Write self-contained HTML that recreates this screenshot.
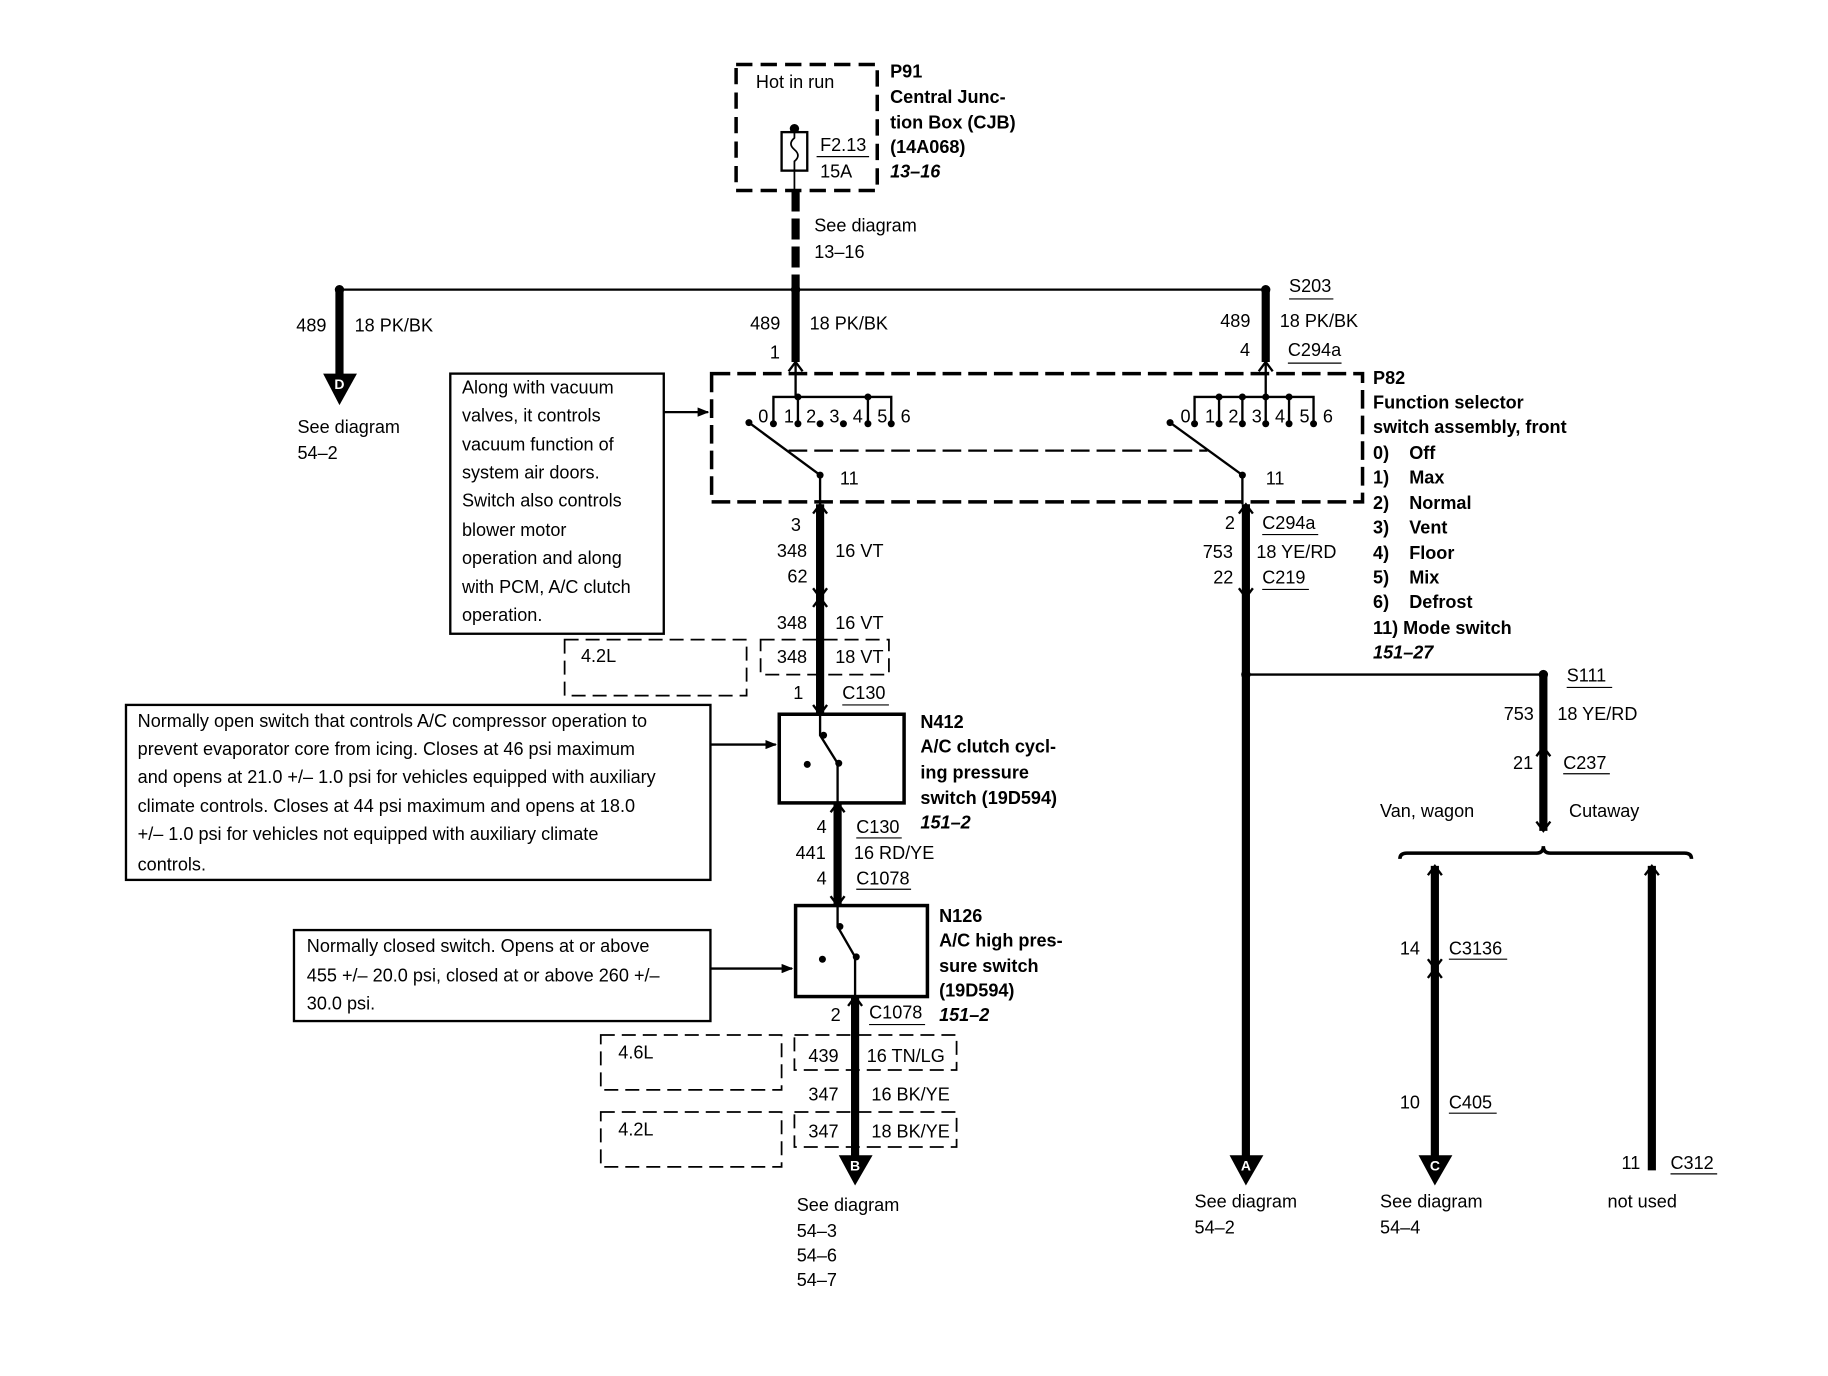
<!DOCTYPE html>
<html><head><meta charset="utf-8"><style>
html,body{margin:0;padding:0;background:#fff}
svg{display:block}
text{font-family:"Liberation Sans",Arial,sans-serif;font-size:15.5px;fill:#000}
.b{font-weight:bold}
.i{font-weight:bold;font-style:italic}
text.w{fill:#fff;font-size:12px;font-weight:bold}
</style></head><body>
<svg width="1828" height="1376" viewBox="0 0 1567 1179" xmlns="http://www.w3.org/2000/svg">
<defs>
<marker id="ar" markerWidth="10" markerHeight="8" refX="9" refY="4" orient="auto" markerUnits="userSpaceOnUse"><path d="M0,0 L10,4 L0,8 Z" fill="#000"/></marker>
</defs>
<g fill="none" stroke="#000">
<rect x="631" y="55" width="121" height="108" stroke-width="3" stroke-dasharray="14,7"/>
<rect x="670" y="113" width="22" height="33" stroke-width="2"/>
<path d="M681,110 L681,118 Q675,123 681,128 Q687,133 681,138 L681,163" stroke-width="1.5"/>
<line x1="700" y1="134" x2="745" y2="134" stroke-width="1"/>
<line x1="682" y1="163" x2="682" y2="248" stroke-width="7" stroke-dasharray="18,6"/>
<line x1="291" y1="248" x2="1085" y2="248" stroke-width="2"/>
<line x1="291" y1="248" x2="291" y2="322" stroke-width="7"/>
<line x1="682" y1="248" x2="682" y2="310" stroke-width="7"/>
<line x1="1085" y1="248" x2="1085" y2="310" stroke-width="7"/>
<line x1="682" y1="310" x2="682" y2="340" stroke-width="2"/>
<line x1="1085" y1="310" x2="1085" y2="340" stroke-width="2"/>
<line x1="1105" y1="256" x2="1143" y2="256" stroke-width="1"/>
<line x1="1104" y1="311" x2="1150" y2="311" stroke-width="1"/>
<rect x="610" y="320" width="558" height="110" stroke-width="3" stroke-dasharray="16,6"/>
<line x1="676" y1="386" x2="1035" y2="386" stroke-width="2" stroke-dasharray="16,6"/>
<path d="M663,362 V340 H764 V362 M684,340 V362 M744,340 V362" stroke-width="2"/>
<line x1="642" y1="362" x2="703" y2="407" stroke-width="2"/>
<line x1="703" y1="407" x2="703" y2="432" stroke-width="2"/>
<path d="M1024,362 V340 H1126 V362 M1045,340 V362 M1065,340 V362 M1085,340 V362 M1105,340 V362" stroke-width="2"/>
<line x1="1003" y1="362" x2="1065" y2="407" stroke-width="2"/>
<line x1="1065" y1="407" x2="1065" y2="432" stroke-width="2"/>
<line x1="703" y1="432" x2="703" y2="612" stroke-width="7"/>
<line x1="1068" y1="432" x2="1068" y2="995" stroke-width="7"/>
<line x1="1068" y1="578" x2="1323" y2="578" stroke-width="2"/>
<line x1="1323" y1="578" x2="1323" y2="712" stroke-width="7"/>
<path d="M1200,736 Q1200,731 1206,731 L1317,731 Q1323,731 1323,725 Q1323,731 1329,731 L1444,731 Q1450,731 1450,736" stroke-width="3"/>
<line x1="1230" y1="742" x2="1230" y2="995" stroke-width="7"/>
<line x1="1416" y1="742" x2="1416" y2="1003" stroke-width="7"/>
<line x1="1082" y1="458" x2="1130" y2="458" stroke-width="1"/>
<line x1="1082" y1="505" x2="1122" y2="505" stroke-width="1"/>
<line x1="1343" y1="589" x2="1382" y2="589" stroke-width="1"/>
<line x1="1340" y1="663" x2="1380" y2="663" stroke-width="1"/>
<line x1="1242" y1="822" x2="1292" y2="822" stroke-width="1"/>
<line x1="1242" y1="954" x2="1283" y2="954" stroke-width="1"/>
<line x1="1432" y1="1006" x2="1472" y2="1006" stroke-width="1"/>
<rect x="484" y="548" width="156" height="48" stroke-width="1.5" stroke-dasharray="12,6"/>
<rect x="652" y="548" width="110" height="30" stroke-width="1.5" stroke-dasharray="12,6"/>
<line x1="722" y1="604" x2="762" y2="604" stroke-width="1"/>
<rect x="668" y="612" width="107" height="76" stroke-width="3"/>
<path d="M703,612 V630 L718,654 V688" stroke-width="2"/>
<line x1="718" y1="688" x2="718" y2="776" stroke-width="7"/>
<line x1="734" y1="718" x2="773" y2="718" stroke-width="1"/>
<line x1="734" y1="762" x2="781" y2="762" stroke-width="1"/>
<rect x="682" y="776" width="113" height="78" stroke-width="3"/>
<path d="M718,776 V794 L733,820 V854" stroke-width="2"/>
<line x1="733" y1="854" x2="733" y2="995" stroke-width="7"/>
<line x1="745" y1="878" x2="793" y2="878" stroke-width="1"/>
<rect x="681" y="887" width="139" height="30" stroke-width="1.5" stroke-dasharray="12,6"/>
<rect x="681" y="953" width="139" height="30" stroke-width="1.5" stroke-dasharray="12,6"/>
<rect x="515" y="887" width="155" height="47" stroke-width="1.5" stroke-dasharray="12,6"/>
<rect x="515" y="953" width="155" height="47" stroke-width="1.5" stroke-dasharray="12,6"/>
<rect x="386" y="320" width="183" height="223" stroke-width="2"/>
<rect x="108" y="604" width="501" height="150" stroke-width="2"/>
<rect x="252" y="797" width="357" height="78" stroke-width="2"/>
<line x1="569" y1="353" x2="607" y2="353" stroke-width="2" marker-end="url(#ar)"/>
<line x1="609" y1="638" x2="665" y2="638" stroke-width="2" marker-end="url(#ar)"/>
<line x1="609" y1="830" x2="679" y2="830" stroke-width="2" marker-end="url(#ar)"/>
<g stroke-width="2">
<path d="M676,318 L682,310 L688,318"/><path d="M1079,318 L1085,310 L1091,318"/>
<path d="M697,440 L703,432 L709,440"/><path d="M1062,440 L1068,432 L1074,440"/>
<path d="M697,504 L703,512 L709,504"/><path d="M1062,504 L1068,512 L1074,504"/>
<path d="M697,520 L703,512 L709,520"/>
<path d="M697,604 L703,612 L709,604"/>
<path d="M712,696 L718,688 L724,696"/><path d="M712,768 L718,776 L724,768"/>
<path d="M727,862 L733,854 L739,862"/>
<path d="M1317,704 L1323,712 L1329,704"/>
<path d="M1317,648 L1323,640 L1329,648"/>
<path d="M1224,750 L1230,742 L1236,750"/><path d="M1410,750 L1416,742 L1422,750"/>
<path d="M1224,822 L1230,830 L1236,822"/><path d="M1224,838 L1230,830 L1236,838"/>
</g>
</g>
<g fill="#000">
<circle cx="681" cy="110" r="4"/>
<circle cx="291" cy="248" r="4"/><circle cx="682" cy="248" r="4"/><circle cx="1085" cy="248" r="4"/>
<circle cx="684" cy="340" r="3"/><circle cx="744" cy="340" r="3"/><circle cx="1045" cy="340" r="3"/><circle cx="1065" cy="340" r="3"/><circle cx="1085" cy="340" r="3"/><circle cx="1105" cy="340" r="3"/>
<circle cx="663" cy="363" r="3"/><circle cx="684" cy="363" r="3"/><circle cx="703" cy="363" r="3"/><circle cx="723" cy="363" r="3"/><circle cx="744" cy="363" r="3"/><circle cx="764" cy="363" r="3"/>
<circle cx="1024" cy="363" r="3"/><circle cx="1045" cy="363" r="3"/><circle cx="1065" cy="363" r="3"/><circle cx="1085" cy="363" r="3"/><circle cx="1105" cy="363" r="3"/><circle cx="1126" cy="363" r="3"/>
<circle cx="642" cy="362" r="3"/><circle cx="703" cy="407" r="3"/><circle cx="1003" cy="362" r="3"/><circle cx="1065" cy="407" r="3"/>
<circle cx="1068" cy="578" r="4"/><circle cx="1323" cy="578" r="4"/>
<circle cx="706" cy="630" r="3"/><circle cx="719" cy="654" r="3"/><circle cx="692" cy="655" r="3"/>
<circle cx="720" cy="794" r="3"/><circle cx="734" cy="820" r="3"/><circle cx="705" cy="822" r="3"/>
<path d="M277,320 L306,320 L291,347 Z"/>
<path d="M719,990 L748,990 L733,1016 Z"/>
<path d="M1054,990 L1083,990 L1068,1016 Z"/>
<path d="M1216,990 L1245,990 L1230,1016 Z"/>
</g>
<g text-anchor="middle">
<text class="w" x="291" y="333">D</text><text class="w" x="733" y="1003">B</text>
<text class="w" x="1068" y="1003">A</text><text class="w" x="1230" y="1003">C</text>
</g>
<text x="648" y="75">Hot in run</text>
<text x="703" y="129">F2.13</text><text x="703" y="152">15A</text>
<text x="763" y="66" class="b">P91</text>
<text x="763" y="88" class="b">Central Junc-</text>
<text x="763" y="110" class="b">tion Box (CJB)</text>
<text x="763" y="131" class="b">(14A068)</text>
<text x="763" y="152" class="i">13–16</text>
<text x="698" y="198">See diagram</text><text x="698" y="221">13–16</text>
<text x="1105" y="250">S203</text>
<text x="254" y="284">489</text><text x="304" y="284">18 PK/BK</text>
<text x="255" y="371">See diagram</text><text x="255" y="393">54–2</text>
<text x="643" y="282">489</text><text x="694" y="282">18 PK/BK</text><text x="660" y="307">1</text>
<text x="1046" y="280">489</text><text x="1097" y="280">18 PK/BK</text><text x="1063" y="305">4</text><text x="1104" y="305">C294a</text>
<g style="font-size:15px">
<text x="650" y="362">0</text><text x="672" y="362">1</text><text x="691" y="362">2</text><text x="711" y="362">3</text><text x="731" y="362">4</text><text x="752" y="362">5</text><text x="772" y="362">6</text>
<text x="1012" y="362">0</text><text x="1033" y="362">1</text><text x="1053" y="362">2</text><text x="1073" y="362">3</text><text x="1093" y="362">4</text><text x="1114" y="362">5</text><text x="1134" y="362">6</text>
</g>
<text x="720" y="415">11</text><text x="1085" y="415">11</text>
<text x="1177" y="329" class="b">P82</text>
<text x="1177" y="350" class="b">Function selector</text>
<text x="1177" y="371" class="b">switch assembly, front</text>
<text x="1177" y="393" class="b">0)</text><text x="1208" y="393" class="b">Off</text>
<text x="1177" y="414" class="b">1)</text><text x="1208" y="414" class="b">Max</text>
<text x="1177" y="436" class="b">2)</text><text x="1208" y="436" class="b">Normal</text>
<text x="1177" y="457" class="b">3)</text><text x="1208" y="457" class="b">Vent</text>
<text x="1177" y="479" class="b">4)</text><text x="1208" y="479" class="b">Floor</text>
<text x="1177" y="500" class="b">5)</text><text x="1208" y="500" class="b">Mix</text>
<text x="1177" y="521" class="b">6)</text><text x="1208" y="521" class="b">Defrost</text>
<text x="1177" y="543" class="b">11) Mode switch</text>
<text x="1177" y="564" class="i">151–27</text>
<text x="396" y="337">Along with vacuum</text>
<text x="396" y="361">valves, it controls</text>
<text x="396" y="386">vacuum function of</text>
<text x="396" y="410">system air doors.</text>
<text x="396" y="434">Switch also controls</text>
<text x="396" y="459">blower motor</text>
<text x="396" y="483">operation and along</text>
<text x="396" y="508">with PCM, A/C clutch</text>
<text x="396" y="532">operation.</text>
<text x="678" y="455">3</text><text x="666" y="477">348</text><text x="716" y="477">16 VT</text><text x="675" y="499">62</text>
<text x="1050" y="453">2</text><text x="1082" y="453">C294a</text>
<text x="1031" y="478">753</text><text x="1077" y="478">18 YE/RD</text>
<text x="1040" y="500">22</text><text x="1082" y="500">C219</text>
<text x="666" y="539">348</text><text x="716" y="539">16 VT</text>
<text x="498" y="567">4.2L</text>
<text x="666" y="568">348</text><text x="716" y="568">18 VT</text>
<text x="680" y="599">1</text><text x="722" y="599">C130</text>
<text x="1343" y="584">S111</text>
<text x="1289" y="617">753</text><text x="1335" y="617">18 YE/RD</text>
<text x="1297" y="659">21</text><text x="1340" y="659">C237</text>
<text x="1183" y="700">Van, wagon</text><text x="1345" y="700">Cutaway</text>
<text x="118" y="623">Normally open switch that controls A/C compressor operation to</text>
<text x="118" y="647">prevent evaporator core from icing. Closes at 46 psi maximum</text>
<text x="118" y="671">and opens at 21.0 +/– 1.0 psi for vehicles equipped with auxiliary</text>
<text x="118" y="696">climate controls.  Closes at 44 psi maximum and opens at 18.0</text>
<text x="118" y="720">+/– 1.0 psi for vehicles not equipped with auxiliary climate</text>
<text x="118" y="746">controls.</text>
<text x="789" y="624" class="b">N412</text>
<text x="789" y="645" class="b">A/C clutch cycl-</text>
<text x="789" y="667" class="b">ing pressure</text>
<text x="789" y="689" class="b">switch (19D594)</text>
<text x="789" y="710" class="i">151–2</text>
<text x="700" y="714">4</text><text x="734" y="714">C130</text>
<text x="682" y="736">441</text><text x="732" y="736">16 RD/YE</text>
<text x="700" y="758">4</text><text x="734" y="758">C1078</text>
<text x="805" y="790" class="b">N126</text>
<text x="805" y="811" class="b">A/C high pres-</text>
<text x="805" y="833" class="b">sure switch</text>
<text x="805" y="854" class="b">(19D594)</text>
<text x="805" y="875" class="i">151–2</text>
<text x="263" y="816">Normally closed switch.  Opens at or above</text>
<text x="263" y="841">455 +/– 20.0 psi, closed at or above 260 +/–</text>
<text x="263" y="865">30.0 psi.</text>
<text x="712" y="875">2</text><text x="745" y="873">C1078</text>
<text x="530" y="907">4.6L</text>
<text x="693" y="910">439</text><text x="743" y="910">16 TN/LG</text>
<text x="693" y="943">347</text><text x="747" y="943">16 BK/YE</text>
<text x="530" y="973">4.2L</text>
<text x="693" y="975">347</text><text x="747" y="975">18 BK/YE</text>
<text x="1200" y="818">14</text><text x="1242" y="818">C3136</text>
<text x="1200" y="950">10</text><text x="1242" y="950">C405</text>
<text x="1390" y="1002">11</text><text x="1432" y="1002">C312</text>
<text x="683" y="1038">See diagram</text><text x="683" y="1060">54–3</text><text x="683" y="1081">54–6</text><text x="683" y="1102">54–7</text>
<text x="1024" y="1035">See diagram</text><text x="1024" y="1057">54–2</text>
<text x="1183" y="1035">See diagram</text><text x="1183" y="1057">54–4</text>
<text x="1378" y="1035">not used</text>
</svg>
</body></html>
